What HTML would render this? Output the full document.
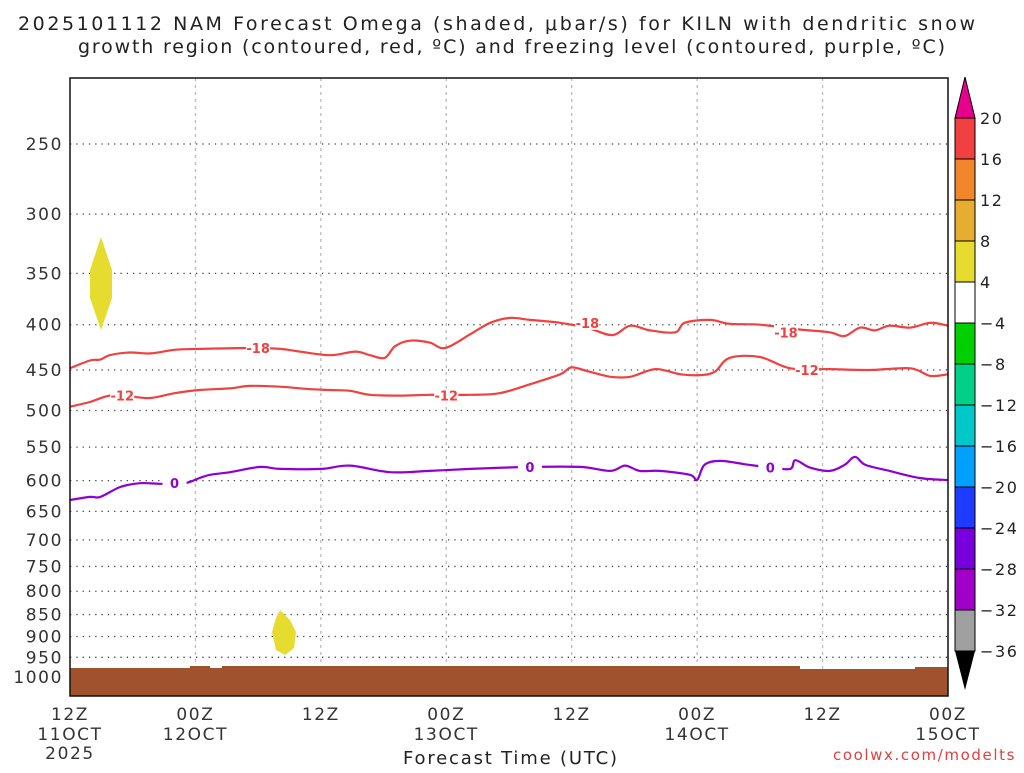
<!DOCTYPE html>
<html><head><meta charset="utf-8"><style>
body{margin:0;background:#fff;width:1024px;height:768px;overflow:hidden;font-family:"Liberation Sans","DejaVu Sans",sans-serif}
svg text{font-family:"DejaVu Sans","Liberation Sans",sans-serif}
.tk{letter-spacing:1.6px}
.cl{font-weight:bold}
</style></head><body>
<svg id="c" width="1024" height="768" xmlns="http://www.w3.org/2000/svg">
<text x="18" y="30" font-size="19" textLength="957" lengthAdjust="spacing" fill="#222">2025101112 NAM Forecast Omega (shaded, μbar/s) for KILN with dendritic snow</text>
<text x="78" y="53" font-size="19" textLength="867" lengthAdjust="spacing" fill="#222">growth region (contoured, red, ºC) and freezing level (contoured, purple, ºC)</text>
<g id="grid"></g><g id="fill"></g><g id="lines"></g><g id="axes"></g><g id="cbar"></g>
<text x="403" y="764" font-size="18" textLength="214" lengthAdjust="spacing" fill="#222">Forecast Time (UTC)</text>
<text x="1016" y="760" font-size="15" text-anchor="end" class="tk" fill="#e04040">coolwx.com/modelts</text>
</svg>
<script>
const xTickHours=[0,12,24,36,48,60,72,84];
const xTickTop=["12Z","00Z","12Z","00Z","12Z","00Z","12Z","00Z"];
const xTickBot=["11OCT","12OCT","","13OCT","","14OCT","","15OCT"];
const yTicks=[250,300,350,400,450,500,550,600,650,700,750,800,850,900,950,1000];
const m18Hours=[0,1.9,2.9,3.8,5.7,7.7,10,12.4,17.2,20.1,22,24.9,27.3,28.7,30.1,31.1,32.5,34.4,35.9,38.3,40.2,42.1,44,46.9,49.7,51.9,53.6,55.5,57.9,58.8,61.2,63.1,66,69.8,72.7,74.1,75.6,77,78.4,80.4,82.3,84];
const m18P=[448,439,438,433,430,431,427,426,425,426,429,433,429,433,436,423,417,419,425,410,398,393,395,398,404,411,401,406,408,398,395,399,400,405,408,412,403,406,401,403,398,401];
const m12Hours=[0,1.9,3.8,5.7,7.7,10,12.4,15.3,17.2,20.1,23,24.9,26.8,28.7,31.6,34.4,38.3,41.1,44,46.9,48,49.7,51.7,53.6,56,58.4,60.3,61.7,63.1,66,68.9,72.7,76.5,80.4,82.3,84];
const m12P=[495,489,481,482,484,478,474,472,469,470,473,474,475,480,481,480,480,478,467,455,447,452,458,458,449,455,456,452,436,435,448,449,450,448,457,455];
const f0Hours=[0,1.9,2.9,4.8,6.7,8.6,11,12.4,13.4,15.3,18.2,20.1,24,26.8,30.6,34.4,38.3,44,48.8,51.7,53.1,54.5,56.4,59.3,60,60.7,62.2,64.6,67,68.9,69.4,70.8,72.7,74.1,75.1,76.1,78.4,81.3,84];
const f0P=[631,626,626,610,604,605,604,596,591,587,579,582,582,577,587,585,582,579,579,585,577,585,585,591,599,576,570,575,580,582,569,580,585,576,564,576,585,596,599];
const labels=[["-18",18,425,"#f04040"],["-18",49.5,398,"#f04040"],["-18",68.5,408,"#f04040"],["-12",5,481,"#f04040"],["-12",36,481,"#f04040"],["-12",70.5,450,"#f04040"],["0",10,604,"#9000d0"],["0",44,579,"#9000d0"],["0",67,580,"#9000d0"]];
const X0=70,X1=948,Y0=78,Y1=696;
const xs=h=>X0+(X1-X0)*h/84;
const ys=p=>144+384.5*Math.log(p/250);
const NS="http://www.w3.org/2000/svg";
function mk(t,a,parent){const e=document.createElementNS(NS,t);for(const k in a)e.setAttribute(k,a[k]);document.getElementById(parent).appendChild(e);return e;}
yTicks.forEach(p=>{const l=mk('line',{x1:X0,x2:X1,y1:ys(p),y2:ys(p),stroke:'#444','stroke-width':1.3,'stroke-dasharray':'1.3 5'},'grid');


const t=mk('text',{x:63,y:ys(p)+6,'font-size':17,'text-anchor':'end',fill:'#333',class:'tk'},'axes');t.textContent=p;

});
xTickHours.forEach((h,i)=>{if(i>0&&i<7){const l=mk('line',{x1:xs(h),x2:xs(h),y1:Y0,y2:Y1,stroke:'#bbb','stroke-width':1.3,'stroke-dasharray':'3 4'},'grid');

}
const t=mk('text',{x:xs(h),y:720,'font-size':17,'text-anchor':'middle',fill:'#333',class:'tk'},'axes');t.textContent=xTickTop[i];


if(xTickBot[i]){const u=mk('text',{x:xs(h),y:740,'font-size':17,'text-anchor':'middle',fill:'#333',class:'tk'},'axes');u.textContent=xTickBot[i];

}});
const yr=mk('text',{x:xs(0),y:759,'font-size':17,'text-anchor':'middle',fill:'#333',class:'tk'},'axes');yr.textContent='2025';


const g=mk('path',{d:`M${X0} ${Y1} L${X0} 668 L190 668 L190 666 L210 666 L210 668 L222 668 L222 666 L800 666 L800 669 L915 669 L915 667 L${X1} 667 L${X1} ${Y1}Z`,fill:'#a0522d'},'fill');


const b1=mk('path',{d:'M101 237 L112 270 L112 298 L101 330 L90 298 L90 270Z',fill:'#e6dc30'},'fill');


const b2=mk('path',{d:'M280 610 L290 620 L296 632 L294 648 L285 655 L276 650 L272 632 L276 618Z',fill:'#e6dc30'},'fill');


function line(hs,ps,col,name){const P=hs.map((h,i)=>[xs(h),ys(ps[i])]);
let d='M'+P[0][0].toFixed(1)+' '+P[0][1].toFixed(1);
for(let i=0;i<P.length-1;i++){const p0=P[i-1]||P[i],p1=P[i],p2=P[i+1],p3=P[i+2]||p2;
const c1=[p1[0]+(p2[0]-p0[0])/6,p1[1]+(p2[1]-p0[1])/6],c2=[p2[0]-(p3[0]-p1[0])/6,p2[1]-(p3[1]-p1[1])/6];
d+=` C${c1[0].toFixed(1)} ${c1[1].toFixed(1)} ${c2[0].toFixed(1)} ${c2[1].toFixed(1)} ${p2[0].toFixed(1)} ${p2[1].toFixed(1)}`;}
const p=mk('path',{d:d,fill:'none',stroke:col,'stroke-width':2.2,'stroke-linejoin':'round'},'lines');

}
line(m18Hours,m18P,'#f04040','contour-minus18');
line(m12Hours,m12P,'#f04040','contour-minus12');
line(f0Hours,f0P,'#9000d0','freezing-level-0');
labels.forEach(l=>{mk('rect',{x:xs(l[1])-12,y:ys(l[2])-7,width:24,height:14,fill:'#fff'},'lines');
const t=mk('text',{x:xs(l[1]),y:ys(l[2])+5,'font-size':13,class:'cl','text-anchor':'middle',fill:l[3]},'lines');t.textContent=l[0];

});
const fr=mk('rect',{x:X0,y:Y0,width:X1-X0,height:Y1-Y0,fill:'none',stroke:'#111','stroke-width':1.5},'axes');


const cbVals=["20","16","12","8","4","-4","-8","-12","-16","-20","-24","-28","-32","-36"];
const cbCols=["#f24040","#f0872a","#e6ad30","#e6dc30","#ffffff","#00d000","#00d088","#00c8c8","#00a0ff","#1e3cff","#7800dc","#a000c8","#a0a0a0"];
const CB0=118,CBH=41,CX=955,CW=20;
cbCols.forEach((c,i)=>{const r=mk('rect',{x:CX,y:CB0+i*CBH,width:CW,height:CBH,fill:c,stroke:'#000','stroke-width':1},'cbar');

});
cbVals.forEach((v,i)=>{const t=mk('text',{x:980,y:CB0+i*CBH+6,'font-size':16,fill:'#222',class:'tk'},'cbar');t.textContent=v.replace('-','−');

});
const tt=mk('path',{d:`M${CX} ${CB0} L${CX+CW/2} 77 L${CX+CW} ${CB0}Z`,fill:'#e6008c',stroke:'#000'},'cbar');


const bt=mk('path',{d:`M${CX} ${CB0+13*CBH} L${CX+CW/2} 690 L${CX+CW} ${CB0+13*CBH}Z`,fill:'#000'},'cbar');


</script>
</body></html>
